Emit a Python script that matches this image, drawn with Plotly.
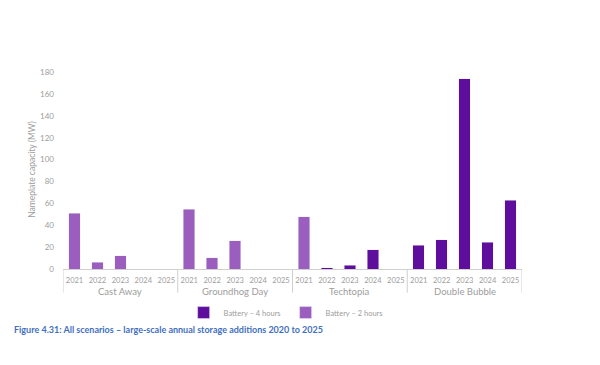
import plotly.graph_objects as go

scenarios = ["Cast Away", "Groundhog Day", "Techtopia", "Double Bubble"]
years = ["2021", "2022", "2023", "2024", "2025"]

# Battery – 4 hours (MW), per scenario, years 2021-2025
bat4 = {
    "Cast Away":     [None, None, None, None, None],
    "Groundhog Day": [None, None, None, None, None],
    "Techtopia":     [None, 1.2, 3.6, 17.6, None],
    "Double Bubble": [21.9, 26.7, 174, 24.6, 62.8],
}
# Battery – 2 hours (MW)
bat2 = {
    "Cast Away":     [51, 6.4, 12.1, None, None],
    "Groundhog Day": [54.6, 10.3, 25.8, None, None],
    "Techtopia":     [47.9, None, None, None, None],
    "Double Bubble": [None, None, None, None, None],
}

yticks = [0, 20, 40, 60, 80, 100, 120, 140, 160, 180]

n_y = len(years)
xpos = list(range(len(scenarios) * n_y))
xlabels = [y for _ in scenarios for y in years]
v4 = [v for s in scenarios for v in bat4[s]]
v2 = [v for s in scenarios for v in bat2[s]]

DARK = "#5e0d9c"
LIGHT = "#9b5ebe"
GRAY = "#9d9d9d"
LINE = "#cfcfcf"
FONT = "Lato"

fig = go.Figure()
fig.add_trace(go.Bar(x=xpos, y=v4, name="Battery – 4 hours", marker_color=DARK))
fig.add_trace(go.Bar(x=xpos, y=v2, name="Battery – 2 hours", marker_color=LIGHT))

fig.update_layout(
    width=600, height=365,
    margin=dict(l=55, r=86, t=62, b=103.7),
    paper_bgcolor="white", plot_bgcolor="white",
    barmode="stack", bargap=0.5,
    font=dict(family=FONT, color=GRAY, size=8),
    showlegend=True,
    legend=dict(orientation="h", traceorder="normal",
                x=0.485, xanchor="center", y=-0.219, yanchor="middle",
                font=dict(size=7.5, color=GRAY), itemwidth=30),
    xaxis=dict(range=[-0.5, len(xpos) - 0.5], tickvals=xpos, ticktext=xlabels,
               showline=True, linecolor=LINE, linewidth=1, zeroline=False,
               tickangle=0, automargin=False, ticklabelstandoff=4,
               tickfont=dict(size=7.5, color=GRAY), showgrid=False, ticks=""),
    yaxis=dict(range=[0, 182], tickvals=yticks, showgrid=False, zeroline=False,
               showline=False, tickfont=dict(size=8, color=GRAY), ticks="",
               automargin=False, ticklabelstandoff=8,
               title=dict(text="Nameplate capacity (MW)", font=dict(size=8.5, color=GRAY),
                          standoff=3)),
)

# group dividers and group labels under the year labels
for i in range(len(scenarios) + 1):
    fig.add_shape(type="line", xref="x", yref="paper",
                  x0=i * n_y - 0.5, x1=i * n_y - 0.5, y0=0, y1=-0.119,
                  line=dict(color=LINE, width=1))
for i, s in enumerate(scenarios):
    fig.add_annotation(text=s, xref="x", yref="paper", x=i * n_y + (n_y - 1) / 2,
                       y=-0.114, xanchor="center", yanchor="middle", showarrow=False,
                       font=dict(family=FONT, size=9.5, color=GRAY))

fig.add_annotation(
    text="<b>Figure 4.31: All scenarios – large-scale annual storage additions 2020 to 2025</b>",
    xref="paper", yref="paper", x=-0.111, y=-0.305, xanchor="left", yanchor="middle",
    showarrow=False, font=dict(family=FONT, size=9, color="#3f6fc0"),
)

fig.write_html("out.html")
